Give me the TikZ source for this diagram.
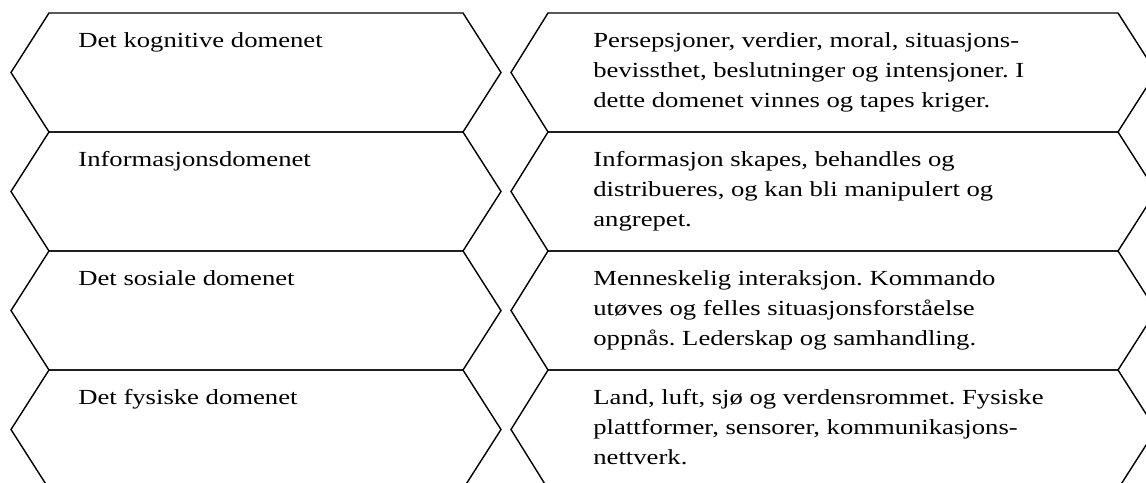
\documentclass[tikz,border=0pt]{standalone}
\usepackage{fontspec}
\setmainfont{Liberation Serif}[FakeStretch=1.24]
\frenchspacing

\tikzset{
  hexline/.style={line width=0.7pt, line join=miter},
  domtext/.style={anchor=base west, align=left, inner sep=0pt,
    font=\fontsize{10.75}{15.15}\selectfont}
}

\begin{document}
\begin{tikzpicture}[x=0.5pt,y=-0.5pt]
        % Frame (bottom and right edge are cut off)
        \useasboundingbox (0,0) rectangle (1146,482);
        \clip (0,0) rectangle (1146,482);

        % Hexagons, one row per domain
        \foreach \t in {13,132,251,370} {
            \draw[hexline] (11,\t+59.5) -- (49,\t) -- (463,\t) -- (501,\t+59.5) -- (463,\t+119) -- (49,\t+119) -- cycle;
            \draw[hexline] (511,\t+59.5) -- (548,\t) -- (1118,\t) -- (1156,\t+59.5) -- (1118,\t+119) -- (548,\t+119) -- cycle;
        }

        % Domain names (left)
        \node[domtext] (kognitiv) at (78,47) {Det kognitive domenet};
        \node[domtext] (info) at (78,166) {Informasjonsdomenet};
        \node[domtext] (sosial) at (78,285) {Det sosiale domenet};
        \node[domtext] (fysisk) at (78,404) {Det fysiske domenet};

        % Descriptions (right), placed at the baseline of the last line
        \node[domtext] (kognitivTekst) at (593,107.6) {Persepsjoner, verdier, moral, situasjons-\\bevissthet, beslutninger og intensjoner. I\\dette domenet vinnes og tapes kriger.};
        \node[domtext] (infoTekst) at (593,226.6) {Informasjon skapes, behandles og\\distribueres, og kan bli manipulert og\\angrepet.};
        \node[domtext] (sosialTekst) at (593,345.6) {Menneskelig interaksjon. Kommando\\utøves og felles situasjonsforståelse\\oppnås. Lederskap og samhandling.};
        \node[domtext] (fysiskTekst) at (593,464.6) {Land, luft, sjø og verdensrommet. Fysiske\\plattformer, sensorer, kommunikasjons-\\nettverk.};

    \end{tikzpicture}
\end{document}
